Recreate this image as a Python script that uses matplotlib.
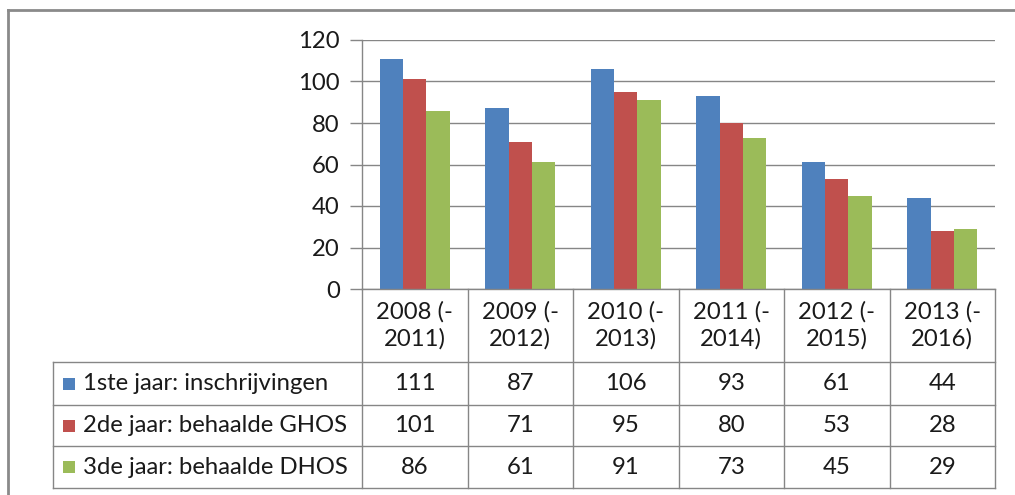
import numpy as np
import matplotlib
matplotlib.use("Agg")
import matplotlib.pyplot as plt
from matplotlib.lines import Line2D
from matplotlib.patches import Rectangle
from matplotlib.transforms import blended_transform_factory

# data
categories = ["2008 (-\n2011)", "2009 (-\n2012)", "2010 (-\n2013)",
              "2011 (-\n2014)", "2012 (-\n2015)", "2013 (-\n2016)"]
series_names = ["1ste jaar: inschrijvingen",
                "2de jaar: behaalde GHOS",
                "3de jaar: behaalde DHOS"]
inschrijvingen = [111, 87, 106, 93, 61, 44]
ghos = [101, 71, 95, 80, 53, 28]
dhos = [86, 61, 91, 73, 45, 29]
series_values = [inschrijvingen, ghos, dhos]
colors = ["#4F81BD", "#C0504D", "#9BBB59"]
y_ticks = [0, 20, 40, 60, 80, 100, 120]

W, H = 1015, 495
plt.rcParams['font.family'] = ['Lato', 'DejaVu Sans']
FS = 17.2
TXT = "#1a1a1a"
GRID = "#868686"

fig = plt.figure(figsize=(W / 100, H / 100), dpi=100)
fig.patch.set_facecolor("white")


def fx(px):
    return px / W


def fy(py):
    return 1 - py / H


# plot area in pixel layout
left, right, top, bottom = 362, 995, 40, 289
ax = fig.add_axes([fx(left), fy(bottom), fx(right - left), fy(top) - fy(bottom)])

x = np.arange(len(categories))
bw = 0.222
for i, (vals, c) in enumerate(zip(series_values, colors)):
    ax.bar(x + (i - 1) * bw, vals, width=bw, color=c, zorder=3)

ax.set_xlim(-0.5, len(categories) - 0.5)
ax.set_ylim(0, 120)
ax.set_yticks(y_ticks)
ax.set_yticklabels([str(t) for t in y_ticks], fontsize=FS, color=TXT)
ax.set_xticks([])
ax.tick_params(axis="y", length=9, width=1, color=GRID, pad=7)
ax.yaxis.grid(True, color=GRID, linewidth=1)
ax.set_axisbelow(True)
for s in ["top", "right", "bottom"]:
    ax.spines[s].set_visible(False)
ax.spines["left"].set_color(GRID)
ax.spines["left"].set_linewidth(1)


def hline(x0, x1, y, **kw):
    fig.add_artist(Line2D([fx(x0), fx(x1)], [fy(y), fy(y)], transform=fig.transFigure,
                          color=kw.get("color", GRID), linewidth=kw.get("lw", 1)))


def vline(xp, y0, y1, **kw):
    fig.add_artist(Line2D([fx(xp), fx(xp)], [fy(y0), fy(y1)], transform=fig.transFigure,
                          color=kw.get("color", GRID), linewidth=kw.get("lw", 1)))


# data table
tbl_left = 53
row_edges = [bottom, 362, 405, 446, 488]
hline(left, right, row_edges[0])
for ry in row_edges[1:]:
    hline(tbl_left, right, ry)
vline(tbl_left, row_edges[1], row_edges[-1])
vline(left, row_edges[0], row_edges[-1])
col_edges = np.linspace(left, right, len(categories) + 1)
for cx in col_edges[1:]:
    vline(cx, row_edges[0], row_edges[-1])

trans = blended_transform_factory(ax.transData, fig.transFigure)
hdr_y = fy((row_edges[0] + row_edges[1]) / 2)
for i, cat in enumerate(categories):
    fig.text(x[i], hdr_y, cat, transform=trans, ha="center", va="center",
             fontsize=FS, linespacing=1.3, color=TXT)

for r, (name, vals, c) in enumerate(zip(series_names, series_values, colors)):
    cy = (row_edges[r + 1] + row_edges[r + 2]) / 2
    fig.add_artist(Rectangle((fx(63), fy(cy + 6)), fx(12), fy(cy - 6) - fy(cy + 6),
                             transform=fig.transFigure, facecolor=c, edgecolor="none"))
    fig.text(fx(83), fy(cy), name, ha="left", va="center", fontsize=FS, color=TXT)
    for i, v in enumerate(vals):
        fig.text(x[i], fy(cy), str(v), transform=trans, ha="center", va="center",
                 fontsize=FS, color=TXT)

# outer chart border (left and top visible)
hline(8, W, 10, color="#8A8A8A", lw=2)
vline(8, 10, H, color="#8A8A8A", lw=2)

fig.savefig("out.png", dpi=100)
